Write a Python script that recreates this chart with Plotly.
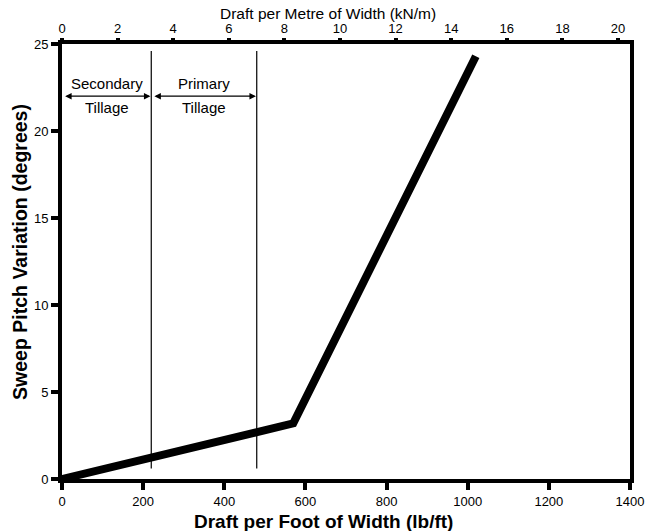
import plotly.graph_objects as go

# Data
draft_lbft = [0, 570, 1020]
pitch_deg = [0, 3.2, 24.3]
boundaries_lbft = [220, 480]
boundary_y = [0.6, 24.6]
x_ticks = [0, 200, 400, 600, 800, 1000, 1200, 1400]
y_ticks = [0, 5, 10, 15, 20, 25]
kn_ticks = [0, 2, 4, 6, 8, 10, 12, 14, 16, 18, 20]
LBFT_TO_KNM = 0.014594
zones = ["Secondary", "Primary"]
zone_start = [0, 220]
zone_end = [220, 480]
arrow_y = 22.0

FONT = "Liberation Sans, Arial, Helvetica, sans-serif"

fig = go.Figure()
fig.add_trace(go.Scatter(x=draft_lbft, y=pitch_deg, mode="lines",
                         line=dict(color="black", width=8), showlegend=False,
                         hoverinfo="skip"))
# invisible trace on top axis
fig.add_trace(go.Scatter(x=[0, 1400 * LBFT_TO_KNM], y=[0, 0], xaxis="x2",
                         mode="markers", marker=dict(opacity=0), showlegend=False,
                         hoverinfo="skip"))

for bx in boundaries_lbft:
    fig.add_shape(type="line", x0=bx, x1=bx, y0=boundary_y[0], y1=boundary_y[1],
                  xref="x", yref="y", line=dict(color="black", width=1.2))

for name, s, e in zip(zones, zone_start, zone_end):
    fig.add_annotation(x=e - 2, y=arrow_y, ax=s + 4, ay=arrow_y, xref="x", yref="y",
                       axref="x", ayref="y", text="", showarrow=True,
                       arrowhead=2, arrowside="end+start", arrowsize=1,
                       arrowwidth=1.3, arrowcolor="black")
    fig.add_annotation(x=(s + e) / 2, y=arrow_y + 0.75, text=name, showarrow=False,
                       font=dict(family=FONT, size=15, color="black"))
    fig.add_annotation(x=(s + e) / 2, y=arrow_y - 0.65, text="Tillage", showarrow=False,
                       font=dict(family=FONT, size=15, color="black"))

# Axis titles (placed as in the reference, slightly off-centre)
fig.add_annotation(xref="paper", yref="paper", x=0.461, y=-0.097, showarrow=False,
                   xanchor="center", yanchor="middle",
                   text="<b>Draft per Foot of Width (lb/ft)</b>",
                   font=dict(family=FONT, size=19, color="black"))
fig.add_annotation(xref="paper", yref="paper", x=0.468, y=1.069, showarrow=False,
                   xanchor="center", yanchor="middle",
                   text="Draft per Metre of Width (kN/m)",
                   font=dict(family=FONT, size=15.5, color="black"))
fig.add_annotation(xref="paper", yref="paper", x=-0.074, y=0.522, showarrow=False,
                   xanchor="center", yanchor="middle",
                   textangle=-90, text="<b>Sweep Pitch Variation (degrees)</b>",
                   font=dict(family=FONT, size=19.5, color="black"))

fig.update_layout(
    width=655, height=531,
    margin=dict(l=62, r=25, t=44, b=52),
    paper_bgcolor="white", plot_bgcolor="white",
    font=dict(family=FONT, color="black", size=13),
    xaxis=dict(range=[0, 1400], tickvals=x_ticks, ticks="outside", ticklen=7,
               tickwidth=4, tickcolor="black", showline=True, linewidth=4,
               linecolor="black", mirror=True, showgrid=False, zeroline=False,
               tickfont=dict(size=13), automargin=False),
    xaxis2=dict(range=[0, 1400 * LBFT_TO_KNM], tickvals=kn_ticks, overlaying="x",
                side="top", ticks="outside", ticklen=5, tickwidth=4,
                tickcolor="black", showline=False, showgrid=False, zeroline=False,
                tickfont=dict(size=13), automargin=False),
    yaxis=dict(range=[0, 25], tickvals=y_ticks, ticks="outside", ticklen=7,
               tickwidth=4, tickcolor="black", showline=True, linewidth=4,
               linecolor="black", mirror=True, showgrid=False, zeroline=False,
               tickfont=dict(size=13), automargin=False),
)

fig.write_html("out.html", config={"displayModeBar": False},
               post_script="document.body.style.margin='0';document.body.style.overflow='hidden';")
